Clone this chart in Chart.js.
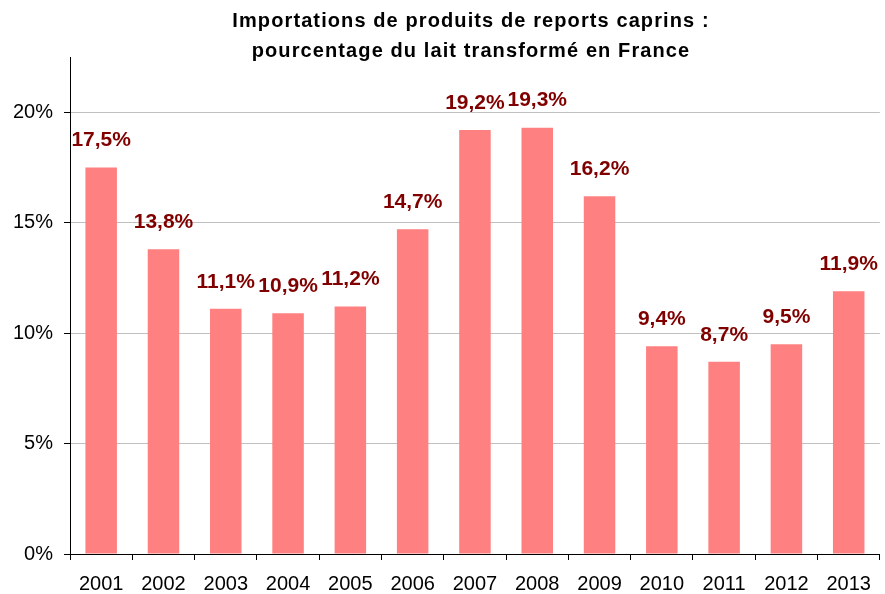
<!DOCTYPE html>
<html lang="fr">
<head>
<meta charset="utf-8">
<title>Importations de produits de reports caprins</title>
<script src="https://cdn.jsdelivr.net/npm/chart.js@4/dist/chart.umd.min.js"></script>
<style>
    html, body { margin: 0; padding: 0; background: #fff; }
    #wrap { width: 885px; height: 594px; }
</style>
</head>
<body>
<div id="wrap"><canvas id="importChart" width="885" height="594"></canvas></div>
<script>
const years = ['2001', '2002', '2003', '2004', '2005', '2006', '2007', '2008', '2009', '2010', '2011', '2012', '2013'];
const importShare = [17.5, 13.8, 11.1, 10.9, 11.2, 14.7, 19.2, 19.3, 16.2, 9.4, 8.7, 9.5, 11.9];
const titleLines = ['Importations de produits de reports caprins :', 'pourcentage du lait transformé en France'];
const yMax = 22.5;
const yStep = 5;

(function () {
    const colors = {
        bar: '#FF8080',
        label: '#800000',
        grid: '#C0C0C0',
        axis: '#000000',
        text: '#000000'
    };
    const fontFamily = "'Liberation Sans', Arial, sans-serif";

    function formatPct(v) {
        return v.toFixed(1).replace('.', ',') + '%';
    }

    // title drawn by hand so the two lines sit where the original puts them
    const titlePlugin = {
        id: 'twoLineTitle',
        afterDraw(chart) {
            const ctx = chart.ctx;
            ctx.save();
            ctx.font = 'bold 20px ' + fontFamily;
            ctx.letterSpacing = '1.1px';
            ctx.fillStyle = colors.text;
            ctx.textAlign = 'center';
            ctx.textBaseline = 'alphabetic';
            ctx.fillText(titleLines[0], 471, 27);
            ctx.fillText(titleLines[1], 471, 57);
            ctx.restore();
        }
    };

    const valueLabels = {
        id: 'valueLabels',
        afterDatasetsDraw(chart) {
            const ctx = chart.ctx;
            const meta = chart.getDatasetMeta(0);
            ctx.save();
            ctx.font = 'bold 21px ' + fontFamily;
            ctx.fillStyle = colors.label;
            ctx.textAlign = 'center';
            ctx.textBaseline = 'middle';
            meta.data.forEach(function (bar, i) {
                ctx.fillText(formatPct(importShare[i]), bar.x, bar.y - 27);
            });
            ctx.restore();
        }
    };

    new Chart(document.getElementById('importChart').getContext('2d'), {
        type: 'bar',
        data: {
            labels: years,
            datasets: [{
                data: importShare,
                backgroundColor: colors.bar,
                borderWidth: 0,
                categoryPercentage: 1,
                barPercentage: 0.506
            }]
        },
        options: {
            responsive: false,
            animation: false,
            // axis fit counts tick padding twice, hence the odd numbers here
            layout: { padding: { top: 57, left: 2, right: 1, bottom: -14 } },
            plugins: {
                legend: { display: false },
                title: { display: false },
                tooltip: { enabled: false }
            },
            scales: {
                x: {
                    offset: true,
                    grid: {
                        offset: true,
                        drawOnChartArea: false,
                        drawTicks: true,
                        tickLength: 6,
                        color: colors.axis
                    },
                    border: { color: colors.axis, width: 1 },
                    ticks: {
                        color: colors.text,
                        font: { family: fontFamily, size: 20, lineHeight: 1 },
                        padding: 14,
                        maxRotation: 0,
                        autoSkip: false
                    }
                },
                y: {
                    min: 0,
                    max: yMax,
                    grid: {
                        color: colors.grid,
                        tickColor: colors.axis,
                        tickLength: 6,
                        drawTicks: true
                    },
                    border: { color: colors.axis, width: 1 },
                    ticks: {
                        stepSize: yStep,
                        includeBounds: false,
                        color: colors.text,
                        font: { family: fontFamily, size: 20 },
                        padding: 11,
                        callback: function (value) {
                            return value + '%';
                        }
                    }
                }
            }
        },
        plugins: [titlePlugin, valueLabels]
    });
})();
</script>
</body>
</html>
